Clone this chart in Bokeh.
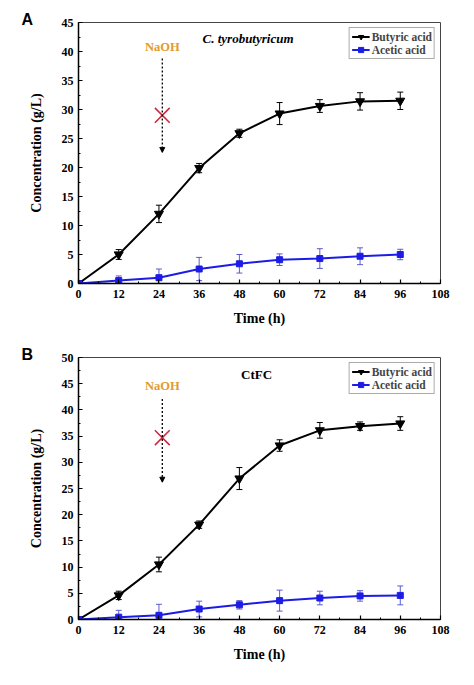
from bokeh.plotting import figure
from bokeh.layouts import column
from bokeh.models import (ColumnDataSource, Whisker, TeeHead, Label, Arrow, NormalHead,
                          SingleIntervalTicker, Range1d, Title)
from bokeh.embed import file_html
from bokeh.resources import INLINE

# ---------------- data ----------------
time = [0, 12, 24, 36, 48, 60, 72, 84, 96]

a_butyric = [0, 5.0, 12.0, 19.9, 25.9, 29.3, 30.6, 31.4, 31.5]
a_butyric_err = [0, 0.85, 1.5, 0.8, 0.7, 1.9, 1.1, 1.5, 1.5]
a_acetic = [0, 0.5, 1.0, 2.5, 3.4, 4.1, 4.3, 4.7, 5.0]
a_acetic_err = [0, 0.8, 1.5, 2.0, 1.6, 1.0, 1.7, 1.45, 0.9]

b_butyric = [0, 4.6, 10.5, 18.1, 26.9, 33.2, 36.1, 36.9, 37.4]
b_butyric_err = [0, 0.8, 1.4, 0.7, 2.1, 1.1, 1.5, 0.8, 1.3]
b_acetic = [0, 0.45, 0.8, 2.0, 2.8, 3.6, 4.1, 4.5, 4.6]
b_acetic_err = [0, 1.3, 2.1, 1.5, 0.8, 2.0, 1.3, 1.0, 1.8]

panel_letters = ["A", "B"]
strain_names = ["C. tyrobutyricum", "CtFC"]
y_max = [45, 50]
naoh_time = 25
naoh_arrow = [(38.8, 22.6), (42.1, 26.2)]
naoh_label_y = [40.7, 44.5]
cross_y = [29, 34.7]
strain_label_pos = [(37, 42.2), (48.5, 46.8)]

SERIF = "Liberation Serif"
BLUE = "#1c1ce6"
BLUE_ERR = "#5b5bd0"


def make_panel(idx, butyric, butyric_err, acetic, acetic_err, height, border_top, border_bottom):
    p = figure(width=466, height=height, output_backend="svg", toolbar_location=None,
               x_range=Range1d(0, 108), y_range=Range1d(0, y_max[idx]),
               min_border_left=78, min_border_right=26,
               min_border_top=border_top, min_border_bottom=border_bottom)
    p.grid.visible = False
    p.outline_line_color = "#444444"
    p.outline_line_width = 1

    p.xaxis.ticker = SingleIntervalTicker(interval=12, num_minor_ticks=2)
    p.yaxis.ticker = SingleIntervalTicker(interval=5, num_minor_ticks=2)
    for ax in (p.xaxis[0], p.yaxis[0]):
        ax.major_tick_in = 4
        ax.major_tick_out = 0
        ax.minor_tick_in = 2
        ax.minor_tick_out = 0
        ax.axis_line_width = 1.5
        ax.axis_line_color = "black"
        ax.major_tick_line_width = 1.2
        ax.major_label_text_font = SERIF
        ax.major_label_text_font_style = "bold"
        ax.major_label_text_font_size = "12px"
        ax.major_label_text_color = "black"
        ax.axis_label_text_font = SERIF
        ax.axis_label_text_font_style = "bold"
        ax.axis_label_text_font_size = "14px"
        ax.axis_label_text_color = "black"
    p.xaxis.axis_label = "Time (h)"
    p.yaxis.axis_label = "Concentration (g/L)"
    p.xaxis.major_label_standoff = 6
    p.yaxis.major_label_standoff = 5
    p.xaxis.axis_label_standoff = 10
    p.yaxis.axis_label_standoff = 15

    src = ColumnDataSource(dict(
        t=time, b=butyric,
        bu=[v + e for v, e in zip(butyric, butyric_err)],
        bl=[v - e for v, e in zip(butyric, butyric_err)],
        a=acetic,
        au=[v + e for v, e in zip(acetic, acetic_err)],
        al=[v - e for v, e in zip(acetic, acetic_err)],
    ))

    wb = Whisker(source=src, base="t", upper="bu", lower="bl", line_color="black", line_width=1,
                 upper_head=TeeHead(size=6, line_color="black", line_width=1),
                 lower_head=TeeHead(size=6, line_color="black", line_width=1))
    wa = Whisker(source=src, base="t", upper="au", lower="al", line_color=BLUE_ERR, line_width=1,
                 upper_head=TeeHead(size=6, line_color=BLUE_ERR, line_width=1),
                 lower_head=TeeHead(size=6, line_color=BLUE_ERR, line_width=1))
    p.add_layout(wb)
    p.add_layout(wa)

    p.line("t", "b", source=src, line_color="black", line_width=2, legend_label="Butyric acid")
    p.scatter("t", "b", source=src, marker="inverted_triangle", size=9, color="black",
              legend_label="Butyric acid")
    p.line("t", "a", source=src, line_color=BLUE, line_width=2, legend_label="Acetic acid")
    p.scatter("t", "a", source=src, marker="square", size=6, color=BLUE,
              legend_label="Acetic acid")

    # NaOH annotation
    p.add_layout(Label(x=naoh_time, y=naoh_label_y[idx], text="NaOH", text_align="center",
                       text_baseline="middle", text_font=SERIF, text_font_style="bold",
                       text_font_size="12.5px", text_color="#e39b2a"))
    p.add_layout(Arrow(x_start=naoh_time, y_start=naoh_arrow[idx][0],
                       x_end=naoh_time, y_end=naoh_arrow[idx][1],
                       line_dash="2 2", line_width=1.3, line_color="black",
                       end=NormalHead(size=5, fill_color="black", line_color="black")))
    p.scatter([naoh_time], [cross_y[idx]], marker="x", size=21, line_color="#d0243c", line_width=1.5)

    # strain name
    sx, sy = strain_label_pos[idx]
    p.add_layout(Label(x=sx, y=sy, text=strain_names[idx], text_align="left",
                       text_baseline="middle", text_font=SERIF,
                       text_font_style="bold italic" if idx == 0 else "bold",
                       text_font_size="13px", text_color="black"))

    # panel letter as a title placed left of the frame
    p.add_layout(Title(text=panel_letters[idx], align="left", offset=-57, standoff=-11,
                       text_font="Liberation Sans", text_font_style="bold",
                       text_font_size="16px", text_color="black"), "above")

    lg = p.legend[0]
    lg.location = "top_right"
    lg.margin = 5
    lg.padding = 2
    lg.spacing = 0
    lg.border_line_color = "#555555"
    lg.border_line_width = 1
    lg.label_text_font = SERIF
    lg.label_text_font_style = "bold"
    lg.label_text_font_size = "11.5px"
    lg.label_height = 13
    lg.glyph_height = 13
    lg.glyph_width = 18
    lg.label_standoff = 2
    lg.background_fill_alpha = 1
    return p


p1 = make_panel(0, a_butyric, a_butyric_err, a_acetic, a_acetic_err, 330, 22, 47)
p2 = make_panel(1, b_butyric, b_butyric_err, b_acetic, b_acetic_err, 347, 27, 58)

layout = column(p1, p2, spacing=0)
open("out.html", "w").write(file_html(layout, INLINE))
